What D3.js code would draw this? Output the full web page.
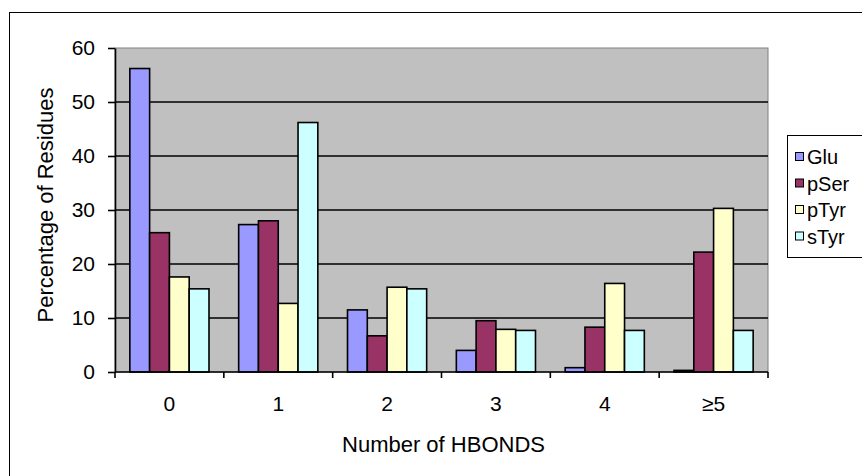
<!DOCTYPE html>
<html>
<head>
<meta charset="utf-8">
<script src="https://cdn.jsdelivr.net/npm/d3@7"></script>
<style>
  html, body { margin: 0; padding: 0; background: #fff; }
  svg { display: block; font-family: Arial, "Liberation Sans", sans-serif; }
</style>
</head>
<body>
<svg id="chart" width="862" height="476"></svg>
<script>
// Hydrogen-bond counts per residue type
const categories = ["0", "1", "2", "3", "4", "\u22655"];
const seriesNames = ["Glu", "pSer", "pTyr", "sTyr"];
const glu  = [56.2, 27.3, 11.5, 4.0, 0.8, 0.3];
const pSer = [25.8, 28.0, 6.7, 9.5, 8.3, 22.2];
const pTyr = [17.6, 12.7, 15.7, 7.9, 16.4, 30.3];
const sTyr = [15.4, 46.2, 15.4, 7.7, 7.7, 7.7];
const seriesColors = ["#9999FF", "#993366", "#FFFFCC", "#CCFFFF"];
const yTicks = [0, 10, 20, 30, 40, 50, 60];

const seriesValues = [glu, pSer, pTyr, sTyr];
const rows = categories.map((c, i) => ({
  cat: c,
  vals: seriesNames.map((s, j) => ({ key: s, value: seriesValues[j][i] }))
}));

const svg = d3.select("#chart");
const plot = { left: 115, top: 48, right: 768, bottom: 372 };

// outer chart frame
svg.append("rect")
  .attr("x", 9.5).attr("y", 12.5)
  .attr("width", 900).attr("height", 500)
  .attr("fill", "#fff").attr("stroke", "#000").attr("stroke-width", 1);

const x = d3.scaleBand().domain(categories).range([plot.left, plot.right]).paddingInner(0).paddingOuter(0);
// four bars plus a gap of 1.5 bar widths in each category
const barW = x.bandwidth() / 5.5;
const inner = d3.scaleBand().domain(seriesNames).range([0, barW * 4]);
const y = d3.scaleLinear().domain([0, 60]).range([plot.bottom, plot.top]);

// plot area
svg.append("rect")
  .attr("x", plot.left).attr("y", plot.top)
  .attr("width", plot.right - plot.left).attr("height", plot.bottom - plot.top)
  .attr("fill", "#C0C0C0").attr("stroke", "#808080").attr("stroke-width", 1);

// horizontal gridlines
svg.append("g")
  .selectAll("line")
  .data(yTicks.filter(t => t > 0 && t < 60))
  .join("line")
  .attr("x1", plot.left).attr("x2", plot.right)
  .attr("y1", d => y(d)).attr("y2", d => y(d))
  .attr("stroke", "#000").attr("stroke-width", 1.6);

// bars
const groups = svg.append("g")
  .selectAll("g")
  .data(rows)
  .join("g")
  .attr("transform", d => `translate(${x(d.cat) + barW * 0.75},0)`);

groups.selectAll("rect")
  .data(d => d.vals)
  .join("rect")
  .attr("x", d => inner(d.key))
  .attr("y", d => y(d.value))
  .attr("width", inner.bandwidth())
  .attr("height", d => y(0) - y(d.value))
  .attr("fill", (d, i) => seriesColors[i])
  .attr("stroke", "#000").attr("stroke-width", 1.6);

// y axis
const yAxis = svg.append("g")
  .attr("transform", `translate(${plot.left},0)`)
  .call(d3.axisLeft(y).tickValues(yTicks).tickSize(7).tickPadding(13).tickSizeOuter(0));
yAxis.select(".domain").attr("stroke", "#000").attr("stroke-width", 1.6);
yAxis.selectAll(".tick line").attr("stroke", "#000").attr("stroke-width", 1.6);
yAxis.selectAll("text").attr("font-size", 21).attr("fill", "#000")
  .attr("font-family", "Arial, 'Liberation Sans', sans-serif");

// x axis
const xTickPos = categories.map(c => x(c)).concat([plot.right]);
const xAxis = svg.append("g").attr("transform", `translate(0,${plot.bottom})`);
xAxis.append("line")
  .attr("x1", plot.left).attr("x2", plot.right)
  .attr("stroke", "#000").attr("stroke-width", 1.6);
xAxis.selectAll("line.tk")
  .data(xTickPos)
  .join("line").attr("class", "tk")
  .attr("x1", d => d).attr("x2", d => d)
  .attr("y1", 0).attr("y2", 6)
  .attr("stroke", "#000").attr("stroke-width", 1.6);
xAxis.selectAll("text")
  .data(categories)
  .join("text")
  .attr("x", d => x(d) + x.bandwidth() / 2)
  .attr("y", 39)
  .attr("text-anchor", "middle")
  .attr("font-size", 21)
  .text(d => d);

// axis titles
svg.append("text")
  .attr("x", (plot.left + plot.right) / 2 + 2)
  .attr("y", 452)
  .attr("text-anchor", "middle")
  .attr("font-size", 22)
  .text("Number of HBONDS");

svg.append("text")
  .attr("transform", "translate(53,205) rotate(-90)")
  .attr("text-anchor", "middle")
  .attr("font-size", 22)
  .text("Percentage of Residues");

// legend
const legend = svg.append("g");
legend.append("rect")
  .attr("x", 787.5).attr("y", 135.5)
  .attr("width", 100).attr("height", 122)
  .attr("fill", "#fff").attr("stroke", "#000").attr("stroke-width", 1);
const items = legend.selectAll("g.item")
  .data(seriesNames)
  .join("g").attr("class", "item")
  .attr("transform", (d, i) => `translate(0,${157 + i * 26.5})`);
items.append("rect")
  .attr("x", 795.5).attr("y", -4.5)
  .attr("width", 8).attr("height", 8)
  .attr("fill", (d, i) => seriesColors[i])
  .attr("stroke", "#000").attr("stroke-width", 1);
items.append("text")
  .attr("x", 807).attr("y", 7)
  .attr("font-size", 20)
  .text(d => d);
</script>
</body>
</html>
